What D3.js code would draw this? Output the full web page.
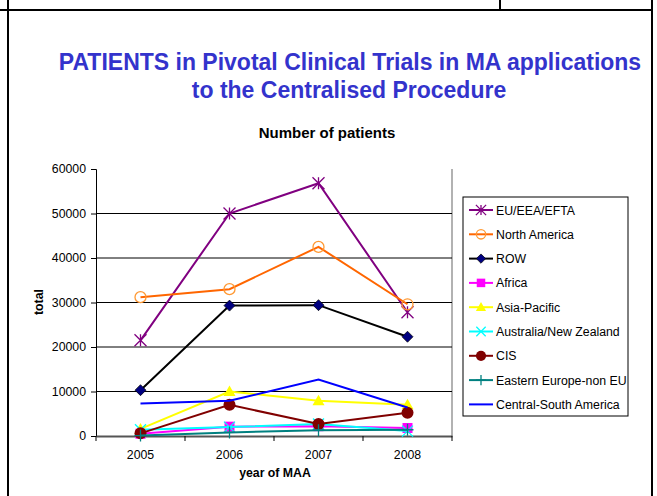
<!DOCTYPE html>
<html><head><meta charset="utf-8">
<script src="https://cdn.jsdelivr.net/npm/d3@7"></script>
<style>body{margin:0;background:#fff}svg{display:block;font-family:Arial,"Liberation Sans",sans-serif}</style>
</head><body>
<svg id="c" width="657" height="496"></svg>
<script>
const years = ["2005","2006","2007","2008"];
const seriesNames = ["EU/EEA/EFTA","North America","ROW","Africa","Asia-Pacific","Australia/New Zealand","CIS","Eastern Europe-non EU","Central-South America"];
const euValues = [21500, 50000, 56800, 27800];
const northAmericaValues = [31200, 33000, 42500, 29600];
const rowValues = [10300, 29300, 29400, 22300];
const africaValues = [500, 2100, 2200, 1800];
const asiaPacificValues = [1600, 10000, 7900, 7000];
const australiaValues = [1400, 2000, 2700, 1100];
const cisValues = [600, 7000, 2700, 5200];
const easternEuropeValues = [100, 800, 1300, 1400];
const centralSouthAmericaValues = [7300, 7900, 12700, 6400];
const yTicks = [0, 10000, 20000, 30000, 40000, 50000, 60000];

const seriesValues = [euValues, northAmericaValues, rowValues, africaValues, asiaPacificValues, australiaValues, cisValues, easternEuropeValues, centralSouthAmericaValues];
const lineColors = ["#800080","#FF6600","#000000","#FF00FF","#FFFF00","#00FFFF","#800000","#008080","#0000FF"];
const markers = ["star","ocircle","diamond","square","triangle","x","circle","plus","none"];
const markerColors = ["#800080","#FF9933","#000080","#FF00FF","#FFFF00","#00FFFF","#800000","#008080","#0000FF"];

const FONT = "Arial,'Liberation Sans',sans-serif";
const svg = d3.select("#c");
// frame
const fr = svg.append("g").attr("stroke","#000").attr("stroke-width",2).attr("fill","none");
fr.append("line").attr("x1",0).attr("x2",653).attr("y1",10).attr("y2",10);
fr.append("line").attr("x1",8).attr("x2",8).attr("y1",0).attr("y2",496);
fr.append("line").attr("x1",652).attr("x2",652).attr("y1",0).attr("y2",496);
fr.append("line").attr("x1",500).attr("x2",500).attr("y1",0).attr("y2",10);

// title
const t = svg.append("text").attr("text-anchor","middle").attr("fill","#3333CC")
  .attr("font-weight","bold").attr("font-size","23px");
t.append("tspan").attr("x",350).attr("y",70).text("PATIENTS in Pivotal Clinical Trials in MA applications");
t.append("tspan").attr("x",349).attr("y",98).text("to the Centralised Procedure");

svg.append("text").attr("x",327).attr("y",138).attr("text-anchor","middle")
  .attr("font-weight","bold").attr("font-size","15px").text("Number of patients");

const pLeft = 96, pRight = 452, pTop = 169, pBottom = 436;
const x = d3.scaleBand().domain(years).range([pLeft,pRight]);
const y = d3.scaleLinear().domain([0,60000]).range([pBottom,pTop]);

// right border of plot
svg.append("line").attr("x1",pRight).attr("x2",pRight).attr("y1",pTop).attr("y2",pBottom).attr("stroke","#999").attr("stroke-width",1.5);
// gridlines
svg.append("g").selectAll("line").data(yTicks.filter(d=>d>0 && d<60000)).join("line")
  .attr("x1",pLeft).attr("x2",pRight).attr("y1",d=>y(d)).attr("y2",d=>y(d)).attr("stroke","#000").attr("stroke-width",1);

// y axis
const ya = svg.append("g").attr("transform",`translate(${pLeft},0)`)
  .call(d3.axisLeft(y).tickValues(yTicks).tickFormat(d3.format("d")).tickSize(5).tickPadding(5));
ya.selectAll("text").attr("font-size","12.3px").attr("font-family",FONT).attr("fill","#000");
ya.select(".domain").attr("stroke","#000");
// x axis
const xa = svg.append("g").attr("transform",`translate(0,${pBottom})`)
  .call(d3.axisBottom(x).tickSize(0).tickPadding(14));
xa.selectAll("text").attr("font-size","12.3px").attr("font-family",FONT).attr("fill","#000");
xa.select(".domain").attr("stroke","#555").attr("stroke-width",2);
svg.append("g").selectAll("line").data(d3.range(years.length+1)).join("line")
  .attr("x1",i=>pLeft+i*x.bandwidth()).attr("x2",i=>pLeft+i*x.bandwidth())
  .attr("y1",pBottom).attr("y2",pBottom+5).attr("stroke","#000");

svg.append("text").attr("transform","translate(43,302) rotate(-90)").attr("text-anchor","middle")
  .attr("font-weight","bold").attr("font-size","12.3px").text("total");
svg.append("text").attr("x",275).attr("y",477).attr("text-anchor","middle")
  .attr("font-weight","bold").attr("font-size","12.3px").text("year of MAA");

function drawMarker(g, type, cx, cy, col, s) {
  s = s || 1;
  if (type==="star") {
    const r=6*s;
    g.append("path").attr("d",`M${cx-r},${cy-r}L${cx+r},${cy+r}M${cx-r},${cy+r}L${cx+r},${cy-r}M${cx},${cy-r}L${cx},${cy+r}`)
      .attr("stroke",col).attr("stroke-width",1.3).attr("fill","none");
  } else if (type==="ocircle") {
    g.append("circle").attr("cx",cx).attr("cy",cy).attr("r",5.5*s).attr("fill","none").attr("stroke",col).attr("stroke-width",1.3);
  } else if (type==="diamond") {
    const r=5.5*s;
    g.append("path").attr("d",`M${cx},${cy-r}L${cx+r},${cy}L${cx},${cy+r}L${cx-r},${cy}Z`).attr("fill",col).attr("stroke","#000").attr("stroke-width",0.7);
  } else if (type==="square") {
    const r=5*s;
    g.append("rect").attr("x",cx-r).attr("y",cy-r).attr("width",2*r).attr("height",2*r).attr("fill",col);
  } else if (type==="triangle") {
    const r=6*s;
    g.append("path").attr("d",`M${cx},${cy-r}L${cx+r},${cy+r*0.75}L${cx-r},${cy+r*0.75}Z`).attr("fill",col);
  } else if (type==="x") {
    const r=5.5*s;
    g.append("path").attr("d",`M${cx-r},${cy-r}L${cx+r},${cy+r}M${cx-r},${cy+r}L${cx+r},${cy-r}`).attr("stroke",col).attr("stroke-width",1.3);
  } else if (type==="circle") {
    g.append("circle").attr("cx",cx).attr("cy",cy).attr("r",6*s).attr("fill",col);
  } else if (type==="plus") {
    const r=6*s;
    g.append("path").attr("d",`M${cx-r},${cy}L${cx+r},${cy}M${cx},${cy-r}L${cx},${cy+r}`).attr("stroke",col).attr("stroke-width",1.3);
  }
}

const line = d3.line().x((d,i)=>x(years[i])+x.bandwidth()/2).y(d=>y(d));
const plot = svg.append("g");
seriesValues.forEach((vals,si)=>{
  const g = plot.append("g");
  g.append("path").datum(vals).attr("d",line).attr("fill","none").attr("stroke",lineColors[si]).attr("stroke-width",2);
  vals.forEach((v,i)=>drawMarker(g, markers[si], x(years[i])+x.bandwidth()/2, y(v), markerColors[si]));
});

// legend
const lg = svg.append("g");
lg.append("rect").attr("x",463).attr("y",197).attr("width",165).attr("height",219).attr("fill","#fff").attr("stroke","#000").attr("stroke-width",1);
seriesNames.forEach((n,i)=>{
  const yy = 210 + i*24.3;
  lg.append("line").attr("x1",469).attr("x2",493).attr("y1",yy).attr("y2",yy).attr("stroke",lineColors[i]).attr("stroke-width",2);
  drawMarker(lg, markers[i], 481, yy, markerColors[i], 0.85);
  lg.append("text").attr("x",496).attr("y",yy+4.5).attr("font-size","12.3px").text(n);
});
</script>
</body></html>
